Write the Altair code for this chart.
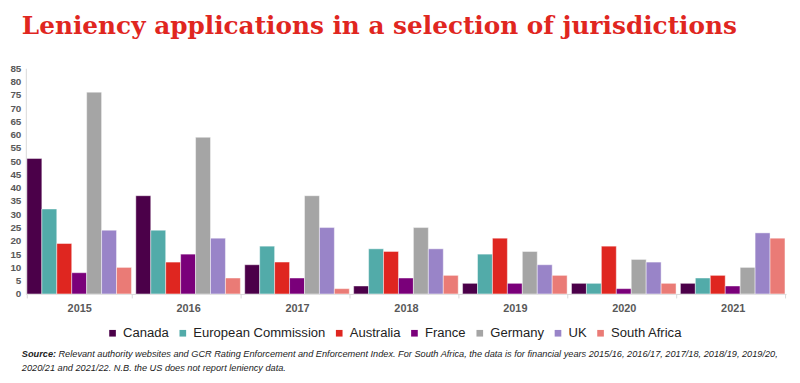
import altair as alt
import pandas as pd

years = ["2015", "2016", "2017", "2018", "2019", "2020", "2021"]
countries = ["Canada", "European Commission", "Australia", "France", "Germany", "UK", "South Africa"]
colors = ["#4B0049", "#52ABA9", "#DF2620", "#7A007A", "#A5A5A5", "#9984C8", "#EA7B76"]

canada = [51, 37, 11, 3, 4, 4, 4]
eu_commission = [32, 24, 18, 17, 15, 4, 6]
australia = [19, 12, 12, 16, 21, 18, 7]
france = [8, 15, 6, 6, 4, 2, 3]
germany = [76, 59, 37, 25, 16, 13, 10]
uk = [24, 21, 25, 17, 11, 12, 23]
south_africa = [10, 6, 2, 7, 7, 4, 21]

series = [canada, eu_commission, australia, france, germany, uk, south_africa]
rows = []
for c, vals in zip(countries, series):
    for y, v in zip(years, vals):
        rows.append({"year": y, "country": c, "value": v})
df = pd.DataFrame(rows)

title_text = "Leniency applications in a selection of jurisdictions"
source_bold = "Source:"
source_line1 = ("Relevant authority websites and GCR Rating Enforcement and Enforcement Index. "
                "For South Africa, the data is for financial years 2015/16, 2016/17, 2017/18, 2018/19, 2019/20,")
source_line2 = "2020/21 and 2021/22. N.B. the US does not report leniency data."

bars = alt.Chart(df).mark_bar(stroke="white", strokeWidth=1, strokeOpacity=0.45).encode(
    x=alt.X("year:N", sort=years,
            scale=alt.Scale(paddingInner=0.04, paddingOuter=0.01),
            axis=alt.Axis(title=None, labelAngle=0, tickBand="extent", tickSize=4,
                          tickColor="#D9D9D9", domainColor="#D9D9D9", labelColor="#595959",
                          labelFont="Liberation Sans", labelFontSize=11, labelFontWeight="bold",
                          labelPadding=5)),
    xOffset=alt.XOffset("country:N", sort=countries),
    y=alt.Y("value:Q", scale=alt.Scale(domain=[0, 85], nice=False),
            axis=alt.Axis(title=None, values=list(range(0, 90, 5)), ticks=False, grid=False,
                          domainColor="#D9D9D9", labelColor="#595959", labelFont="Liberation Sans",
                          labelFontSize=10, labelFontWeight="bold", labelPadding=5)),
    color=alt.Color("country:N", sort=countries,
                    scale=alt.Scale(domain=countries, range=colors),
                    legend=alt.Legend(title=None, orient="none", legendX=81, legendY=261,
                                      direction="horizontal", symbolType="square", symbolSize=45,
                                      symbolStrokeWidth=0, labelFont="Liberation Sans",
                                      labelFontSize=13.2, labelColor="#222222", columnPadding=7,
                                      labelOffset=4)),
)

tdf = pd.DataFrame({"t": [title_text]})
title = alt.Chart(tdf).mark_text(
    font="DejaVu Serif", fontSize=25, fontWeight="bold", color="#E0261F",
    align="left", baseline="alphabetic"
).encode(text="t:N", x=alt.value(-4), y=alt.value(-35))

sdf = pd.DataFrame({"t": [source_bold]})
src_b = alt.Chart(sdf).mark_text(
    font="Liberation Sans", fontSize=9.3, fontWeight="bold", fontStyle="italic", color="#222222",
    align="left", baseline="middle"
).encode(text="t:N", x=alt.value(-4), y=alt.value(289))

s1 = pd.DataFrame({"t": [source_line1]})
src_1 = alt.Chart(s1).mark_text(
    font="Liberation Sans", fontSize=9.3, fontStyle="italic", color="#222222",
    align="left", baseline="middle"
).encode(text="t:N", x=alt.value(33), y=alt.value(289))

s2 = pd.DataFrame({"t": [source_line2]})
src_2 = alt.Chart(s2).mark_text(
    font="Liberation Sans", fontSize=9.3, fontStyle="italic", color="#222222",
    align="left", baseline="middle"
).encode(text="t:N", x=alt.value(-4), y=alt.value(303))

chart = alt.layer(bars, title, src_b, src_1, src_2).properties(
    width=768, height=228,
    autosize=alt.AutoSizeParams(type="none"),
    padding={"left": 18, "top": 59, "right": 6, "bottom": 80},
).configure_view(stroke=None)

chart.save("out.html", embed_options={"renderer": "svg", "actions": False})
